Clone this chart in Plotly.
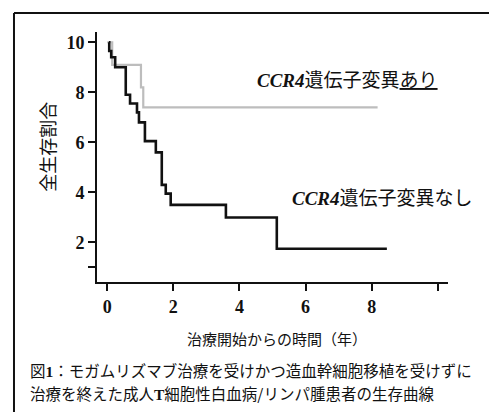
import plotly.graph_objects as go

# Data (survival curves, step plots)
gray_x = [0.0, 0.15, 1.02, 1.09, 8.18]
gray_y = [10.0, 9.1, 8.2, 7.4, 7.4]

black_x = [0.05, 0.06, 0.12, 0.24, 0.56, 0.69, 0.90, 0.96, 1.14, 1.47, 1.65, 1.77, 1.92, 3.59, 5.13, 8.46]
black_y = [10.0, 9.65, 9.4, 9.0, 7.9, 7.55, 7.2, 6.8, 6.05, 5.6, 4.3, 3.95, 3.5, 3.0, 1.75, 1.75]

x_tickvals = [0, 2, 4, 6, 8, 10]
x_ticktext = ["0", "2", "4", "6", "8", ""]
y_tickvals = [1, 2, 4, 6, 8, 10]
y_ticktext = ["", "2", "4", "6", "8", "10"]

label_with = '<span style="font-family:Liberation Serif"><b><i>CCR4</i></b></span>遺伝子変異<u>あり</u>'
label_without = '<span style="font-family:Liberation Serif"><b><i>CCR4</i></b></span>遺伝子変異なし'
x_title = "治療開始からの時間（年）"
y_title = "全生存割合"
caption1 = '図<span style="font-family:Liberation Serif"><b>1</b></span>：モガムリズマブ治療を受けかつ造血幹細胞移植を受けずに'
caption2 = '治療を終えた成人<span style="font-family:Liberation Serif"><b>T</b></span>細胞性白血病/リンパ腫患者の生存曲線'

JP = "Noto Sans CJK JP"

fig = go.Figure()
fig.add_trace(go.Scatter(x=gray_x, y=gray_y, mode="lines", line=dict(shape="hv", color="#bdbdbd", width=2.2),
                         showlegend=False, hoverinfo="skip"))
fig.add_trace(go.Scatter(x=black_x, y=black_y, mode="lines", line=dict(shape="hv", color="#111111", width=2.6),
                         showlegend=False, hoverinfo="skip"))

axis_common = dict(showline=True, linecolor="#111111", linewidth=2, ticks="outside", ticklen=7,
                   tickwidth=2, tickcolor="#111111", showgrid=False, zeroline=False,
                   tickfont=dict(family="Liberation Serif", size=18, color="#111111", weight="bold"))

fig.update_layout(
    width=489, height=412,
    margin=dict(l=97, r=41, t=32, b=130),
    paper_bgcolor="white", plot_bgcolor="white",
    xaxis=dict(range=[-0.31, 10.31], tickvals=x_tickvals, ticktext=x_ticktext, **axis_common),
    yaxis=dict(range=[0.42, 10.41], tickvals=y_tickvals, ticktext=y_ticktext, **axis_common),
    font=dict(family=JP, color="#111111"),
)

ann = [
    dict(text=label_with, x=0.450, y=0.816, xanchor="left", yanchor="middle", font=dict(size=19, family=JP)),
    dict(text=label_without, x=0.550, y=0.34, xanchor="left", yanchor="middle", font=dict(size=19, family=JP)),
    dict(text=x_title, x=0.5114, y=-0.224, xanchor="center", yanchor="middle", font=dict(size=15, family=JP)),
    dict(text=y_title, x=-0.1433, y=0.54, xanchor="center", yanchor="middle", textangle=-90,
         font=dict(size=18, family=JP)),
    dict(text=caption1, x=-0.1966, y=-0.352, xanchor="left", yanchor="middle", font=dict(size=15.5, family=JP)),
    dict(text=caption2, x=-0.1966, y=-0.442, xanchor="left", yanchor="middle", font=dict(size=15.5, family=JP)),
]
for a in ann:
    a.update(xref="paper", yref="paper", showarrow=False)
fig.update_layout(annotations=ann)

# Outer frame (top and left edges visible)
fig.add_shape(type="line", xref="paper", yref="paper", x0=-0.2365, x1=1.2, y0=1.076, y1=1.076,
              line=dict(color="#111111", width=2))
fig.add_shape(type="line", xref="paper", yref="paper", x0=-0.2365, x1=-0.2365, y0=1.076, y1=-0.7,
              line=dict(color="#111111", width=2))

fig.write_html("out.html", config={"displayModeBar": False},
               post_script="document.body.style.margin='0';document.body.style.overflow='hidden';")
